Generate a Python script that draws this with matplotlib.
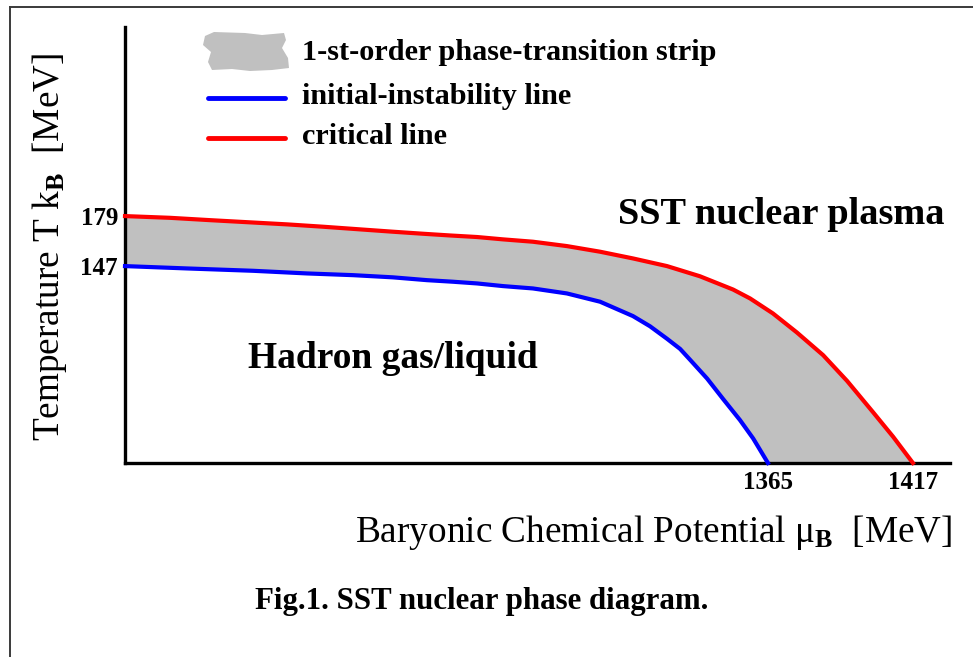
import matplotlib
matplotlib.use("Agg")
import matplotlib.pyplot as plt
from matplotlib.lines import Line2D
from matplotlib.patches import Polygon

# ---------------------------------------------------------------------------
# Data
# ---------------------------------------------------------------------------
# critical line (red)
mu_crit = [1134.4, 1150.5, 1164.9, 1179.2, 1192.5, 1205.4, 1218.7, 1230.5,
           1241.3, 1251.0, 1260.7, 1270.0, 1280.7, 1292.9, 1304.8, 1316.6,
           1328.8, 1340.6, 1352.5, 1358.6, 1366.8, 1375.4, 1384.8, 1393.4,
           1402.7, 1409.9, 1417.0]
T_crit = [179.0, 177.9, 176.4, 175.0, 173.7, 172.2, 170.5, 169.0,
          167.7, 166.6, 165.6, 164.1, 162.6, 159.8, 156.2, 151.9,
          147.0, 140.5, 132.0, 126.3, 116.7, 104.5, 90.0, 73.5,
          53.5, 37.8, 21.0]

# initial-instability line (blue)
mu_inst = [1134.4, 1156.6, 1180.3, 1199.7, 1216.2, 1230.5, 1242.7, 1252.0,
           1260.7, 1270.0, 1280.7, 1292.9, 1304.8, 1316.6, 1322.7, 1328.8,
           1333.5, 1337.1, 1343.2, 1348.9, 1355.0, 1359.7, 1365.0]
T_inst = [147.0, 145.5, 144.0, 142.3, 141.2, 139.8, 138.0, 137.0,
          135.9, 134.2, 132.7, 129.5, 124.2, 115.0, 108.5, 100.5,
          94.0, 87.0, 75.0, 62.0, 48.4, 36.7, 21.0]

x_ticks = [1365, 1417]
y_ticks = [147, 179]
x_range = (1134.4, 1430.3)
y_range = (21.0, 300.0)

legend_labels = ["1-st-order phase-transition strip",
                 "initial-instability line",
                 "critical line"]

# ---------------------------------------------------------------------------
# Style
# ---------------------------------------------------------------------------
W, H = 973, 657
SERIF = "Liberation Serif"
RED = "#ff0000"
BLUE = "#0000ff"
GREY = "#c0c0c0"
plt.rcParams["mathtext.fontset"] = "custom"
plt.rcParams["mathtext.rm"] = SERIF
plt.rcParams["mathtext.bf"] = SERIF + ":bold"
plt.rcParams["mathtext.it"] = SERIF + ":italic"


def fx(px):
    return px / W


def fy(py):
    return 1 - py / H


fig = plt.figure(figsize=(W / 100, H / 100), dpi=100)
fig.patch.set_facecolor("white")

# outer frame (only left and top edges are visible in the crop)
fig.add_artist(Line2D([fx(9.5), fx(9.5)], [fy(7), 0], color="#3a3a3a", lw=1.4))
fig.add_artist(Line2D([fx(9.5), 1], [fy(7), fy(7)], color="#3a3a3a", lw=1.4))

ax = fig.add_axes([fx(125), fy(463), fx(950) - fx(125), fy(27) - fy(463)])
ax.set_xlim(*x_range)
ax.set_ylim(*y_range)
for side in ("top", "right"):
    ax.spines[side].set_visible(False)
for side in ("left", "bottom"):
    ax.spines[side].set_linewidth(2.4)
    ax.spines[side].set_color("black")

# strip between the two lines
strip = list(zip(mu_crit, T_crit)) + list(zip(mu_inst[::-1], T_inst[::-1]))
ax.add_patch(Polygon(strip, closed=True, facecolor=GREY, edgecolor="none", zorder=1))
ax.plot(mu_crit, T_crit, color=RED, lw=3.0, zorder=3, clip_on=False)
ax.plot(mu_inst, T_inst, color=BLUE, lw=3.0, zorder=3, clip_on=False)

ax.set_xticks(x_ticks)
ax.set_yticks(y_ticks)
ax.set_xticklabels([str(v) for v in x_ticks], fontfamily=SERIF,
                   fontweight="bold", fontsize=18)
ax.set_yticklabels([str(v) for v in y_ticks], fontfamily=SERIF,
                   fontweight="bold", fontsize=18)
ax.tick_params(axis="x", length=0, pad=6)
ax.tick_params(axis="y", length=0, pad=5)

# ---------------------------------------------------------------------------
# Legend (drawn by hand)
# ---------------------------------------------------------------------------
torn = [(205, 36), (214, 32), (245, 33), (262, 35), (284, 33), (286, 40),
        (282, 48), (288, 58), (289, 68), (272, 70), (250, 71), (232, 69),
        (212, 70), (208, 62), (211, 52), (203, 45)]
fig.add_artist(Polygon([(fx(a), fy(b)) for a, b in torn], closed=True,
                       facecolor=GREY, edgecolor="none",
                       transform=fig.transFigure))
fig.add_artist(Line2D([fx(208), fx(285)], [fy(98), fy(98)], color=BLUE,
                      lw=3.5, solid_capstyle="round"))
fig.add_artist(Line2D([fx(208), fx(285)], [fy(138), fy(138)], color=RED,
                      lw=3.5, solid_capstyle="round"))
for label, py in zip(legend_labels, [53, 97, 136]):
    fig.text(fx(302), fy(py), label, ha="left", va="center",
             fontfamily=SERIF, fontweight="bold", fontsize=21.8)

# ---------------------------------------------------------------------------
# Region labels, axis titles, caption
# ---------------------------------------------------------------------------
fig.text(fx(618), fy(214), "SST nuclear plasma", ha="left", va="center",
         fontfamily=SERIF, fontweight="bold", fontsize=27.6)
fig.text(fx(248), fy(359), "Hadron gas/liquid", ha="left", va="center",
         fontfamily=SERIF, fontweight="bold", fontsize=27)

fig.text(fx(355), fy(533), r"Baryonic Chemical Potential μ$_{\mathbf{B}}$  [MeV]",
         ha="left", va="center", fontfamily=SERIF, fontsize=26.8)
fig.text(fx(50), fy(247), r"Temperature T k$_{\mathbf{B}}$  [MeV]",
         ha="center", va="center", rotation=90, fontfamily=SERIF, fontsize=26.8)

fig.text(fx(255), fy(602), "Fig.1. SST nuclear phase diagram.",
         ha="left", va="center", fontfamily=SERIF, fontweight="bold", fontsize=22.2)

fig.savefig("out.png", dpi=100, facecolor="white")
